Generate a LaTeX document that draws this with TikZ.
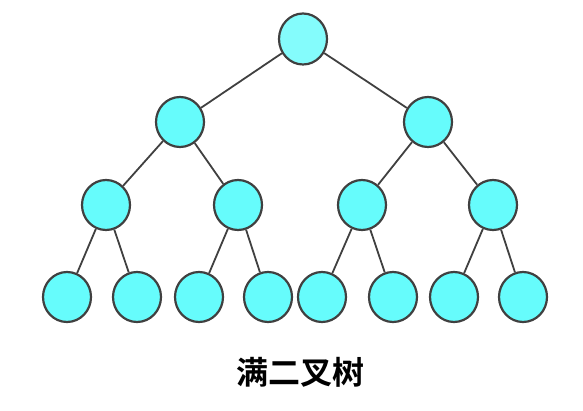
\documentclass[tikz,border=0pt]{standalone}
\usepackage{fontspec}
\newfontfamily\cjk{Noto Sans CJK SC}[BoldFont={Noto Sans CJK SC Bold}]
\usetikzlibrary{shapes.geometric}
\definecolor{rootfill}{HTML}{84FCFC}
\definecolor{nodefill}{HTML}{66FCFC}
\definecolor{edgec}{HTML}{404040}
\tikzset{
  tn/.style={ellipse, draw=edgec, line width=2.2pt, fill=nodefill, minimum width=48pt, minimum height=50pt, inner sep=0pt},
  rt/.style={tn, fill=rootfill, minimum height=51pt},
  ed/.style={draw=edgec, line width=1.8pt}
}
\begin{document}
\begin{tikzpicture}[x=1pt,y=-1pt]
\useasboundingbox (0,0) rectangle (583,411);
\node[rt] (r) at (303,39) {};
\node[tn] (a) at (180,122) {};
\node[tn] (b) at (428,122) {};
\node[tn] (c) at (106,205) {};
\node[tn] (d) at (238,205) {};
\node[tn] (e) at (362,205) {};
\node[tn] (f) at (493,205) {};
\node[tn] (l1) at (67,297) {};
\node[tn] (l2) at (137,297) {};
\node[tn] (l3) at (199,297) {};
\node[tn] (l4) at (268,297) {};
\node[tn] (l5) at (322,297) {};
\node[tn] (l6) at (393,297) {};
\node[tn] (l7) at (454,297) {};
\node[tn] (l8) at (523,297) {};
\path[ed] (r)--(a) (r)--(b) (a)--(c) (a)--(d) (b)--(e) (b)--(f)
  (c)--(l1) (c)--(l2) (d)--(l3) (d)--(l4) (e)--(l5) (e)--(l6) (f)--(l7) (f)--(l8);
\node[font=\cjk\bfseries\fontsize{32}{36}\selectfont, text=black] (t) at (300,372) {满二叉树};
\end{tikzpicture}
\end{document}
